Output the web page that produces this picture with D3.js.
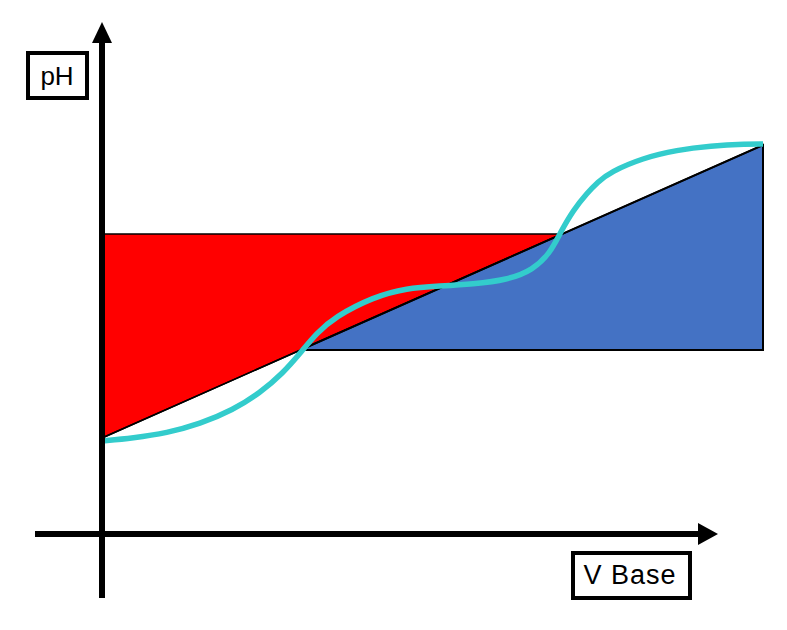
<!DOCTYPE html>
<html>
<head>
<meta charset="utf-8">
<script src="https://cdn.jsdelivr.net/npm/d3@7"></script>
<style>
  html, body { margin: 0; padding: 0; background: #fff; }
  svg { display: block; }
  text { font-family: "Liberation Sans", Arial, sans-serif; }
</style>
</head>
<body>
<script>
// ---- Data (V base in arbitrary units 0..100, pH in arbitrary units 0..100) ----
const redTriangle = [[0, 60.2], [69.6, 60.2], [0, 19.4]];
const blueTriangle = [[30, 37], [100, 78], [100, 37]];
const diagonal = [[0, 19.4], [100, 78]];
const curveV  = [0, 4.7, 9.8, 14.8, 19.8, 23.9, 27.4, 30.0, 32.5, 35.2, 41.0, 46.1, 51.1, 56.1, 61.3, 65.2, 67.8, 69.3, 71.3, 73.4, 75.0, 76.9, 81.8, 87.0, 92.0, 97.6, 100];
const curvePH = [18.8, 19.4, 20.4, 22.2, 25.0, 28.4, 32.4, 36.4, 40.4, 43.6, 47.6, 49.4, 49.8, 50.2, 51.0, 53.0, 56.4, 60.4, 65.0, 68.4, 70.6, 72.6, 75.4, 77.0, 77.8, 78.2, 78.2];
const yLabel = "pH";
const xLabel = "V Base";

const W = 787, H = 630;
const svg = d3.select("body").append("svg").attr("width", W).attr("height", H);

const x = d3.scaleLinear().domain([0, 100]).range([102, 763]);
const y = d3.scaleLinear().domain([0, 100]).range([535, 35]);

const poly = d3.line().x(d => x(d[0])).y(d => y(d[1]));

svg.append("path")
  .attr("d", poly(redTriangle) + "Z")
  .attr("fill", "#FF0000").attr("stroke", "#000").attr("stroke-width", 1.5);

svg.append("path")
  .attr("d", poly(blueTriangle) + "Z")
  .attr("fill", "#4472C4").attr("stroke", "#000").attr("stroke-width", 2);

svg.append("path")
  .attr("d", poly(diagonal))
  .attr("fill", "none").attr("stroke", "#000").attr("stroke-width", 1.5);

const curvePts = curveV.map((v, i) => [v, curvePH[i]]);
svg.append("path")
  .attr("d", d3.line().x(d => x(d[0])).y(d => y(d[1])).curve(d3.curveBasis)(curvePts))
  .attr("fill", "none").attr("stroke", "#33CCCC").attr("stroke-width", 5.5).attr("stroke-linecap", "butt");

// ---- Axes (arrows, no ticks) ----
const ox = x(0), oy = 534;
const ax = svg.append("g");
ax.append("line").attr("x1", ox).attr("y1", 598).attr("x2", ox).attr("y2", 42)
  .attr("stroke", "#000").attr("stroke-width", 6);
ax.append("path").attr("d", `M${ox},22 L${ox - 10},43 L${ox + 10},43 Z`).attr("fill", "#000");
ax.append("line").attr("x1", 35).attr("y1", oy).attr("x2", 699).attr("y2", oy)
  .attr("stroke", "#000").attr("stroke-width", 6);
ax.append("path").attr("d", `M718,${oy} L698,${oy - 11} L698,${oy + 11} Z`).attr("fill", "#000");

// ---- Labels in boxes ----
function boxLabel(x0, y0, w, h, txt, fs, tx, base, ls) {
  svg.append("rect").attr("x", x0).attr("y", y0).attr("width", w).attr("height", h)
    .attr("fill", "#fff").attr("stroke", "#000").attr("stroke-width", 4);
  svg.append("text").attr("x", tx).attr("y", base)
    .attr("text-anchor", "middle")
    .attr("letter-spacing", ls)
    .attr("font-size", fs).attr("fill", "#000").text(txt);
}
boxLabel(28, 53, 59, 45, yLabel, 26, 57, 85, 0);
boxLabel(573, 553, 117, 45, xLabel, 27, 630, 584, 1);
</script>
</body>
</html>
